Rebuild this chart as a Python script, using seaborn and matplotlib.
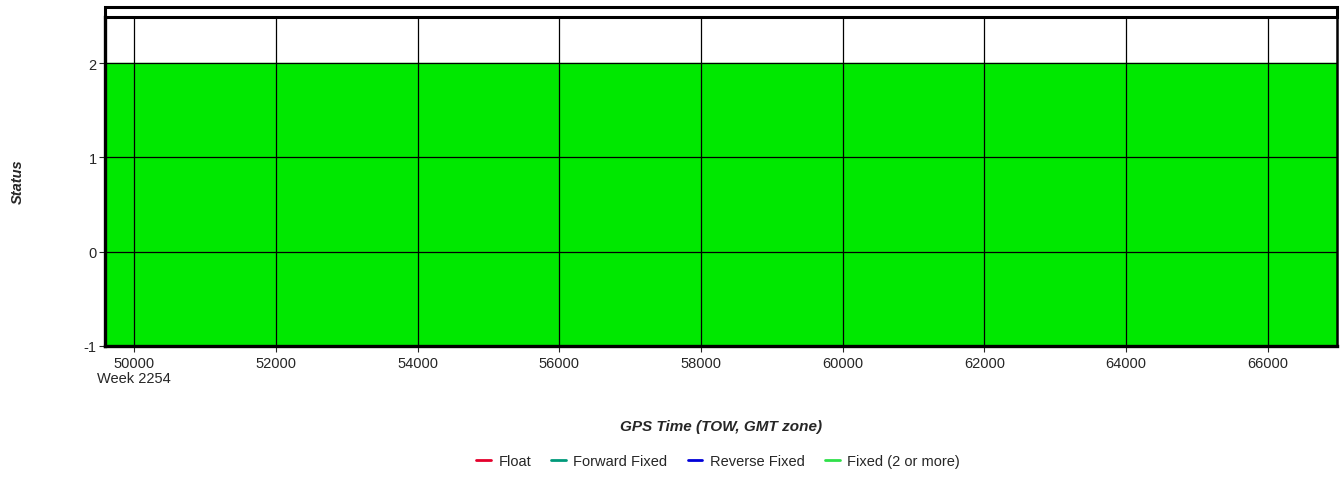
import numpy as np
import pandas as pd
import matplotlib
matplotlib.use("Agg")
import matplotlib.pyplot as plt
from matplotlib.lines import Line2D
from matplotlib.patches import Rectangle
import seaborn as sns

# solution status over time (whole span fixed, status 2)
gps_time = [49590, 66975]
status = [2, 2]
xticks = [50000, 52000, 54000, 56000, 58000, 60000, 62000, 64000, 66000]
xticklabels = ["50000\nWeek 2254", "52000", "54000", "56000", "58000",
               "60000", "62000", "64000", "66000"]
yticks = [-1, 0, 1, 2]
legend_names = ["Float", "Forward Fixed", "Reverse Fixed", "Fixed (2 or more)"]
legend_colors = ["#e4002b", "#00997a", "#0000d8", "#2fe04a"]

df = pd.DataFrame({"time": gps_time, "status": status})

sns.set_style("white")
plt.rcParams["font.family"] = ["Liberation Sans", "DejaVu Sans"]

fig = plt.figure(figsize=(13.41, 5.02), dpi=100)
W, H = 1341, 502
ax = fig.add_axes([105 / W, 1 - 347 / H, (1337 - 105) / W, (347 - 18) / H])

ax.fill_between(df["time"], -1, df["status"], step="post", color="#00e800",
                linewidth=0, zorder=1)
sns.lineplot(data=df, x="time", y="status", color="#00e800", lw=1, ax=ax,
             zorder=1)

ax.set_xlim(49590, 66975)
ax.set_ylim(-1, 2.49)
ax.set_xticks(xticks)
ax.set_xticklabels(xticklabels, fontsize=10.5, linespacing=1.15)
ax.set_yticks(yticks)
ax.set_yticklabels([str(v) for v in yticks], fontsize=10.5)
ax.grid(True, color="black", lw=0.9, zorder=2)
ax.set_axisbelow(False)
ax.tick_params(axis="y", length=4, width=0.8, direction="out", pad=2, left=True)
ax.tick_params(axis="x", length=4, width=0.8, direction="out", pad=3, bottom=True)
for s in ["left", "bottom"]:
    ax.spines[s].set_linewidth(2.4)
for s in ["top", "right"]:
    ax.spines[s].set_linewidth(1.8)
for s in ax.spines.values():
    s.set_color("black")
    s.set_zorder(5)

ax.set_xlabel("")
ax.set_ylabel("")
fig.text(721 / W, 1 - 427 / H, "GPS Time (TOW, GMT zone)", fontsize=11,
         fontweight="bold", fontstyle="italic", ha="center", va="center")
fig.text(18 / W, 1 - 182 / H, "Status", rotation=90, fontsize=10.5,
         fontweight="bold", fontstyle="italic", ha="center", va="center")

# outer frame strip above the plot area
fig.patches.append(Rectangle((105 / W, 1 - 18 / H), (1337 - 105) / W, 10 / H,
                             transform=fig.transFigure, fill=False,
                             edgecolor="black", lw=2.2))

handles = [Line2D([], [], color=c, lw=2) for c in legend_colors]
fig.legend(handles, legend_names, loc="center", bbox_to_anchor=(718 / W, 1 - 462 / H),
           ncol=4, frameon=False, fontsize=10.5, handlelength=1.0,
           handletextpad=0.5, columnspacing=1.4)

fig.savefig("out.png", dpi=100)
